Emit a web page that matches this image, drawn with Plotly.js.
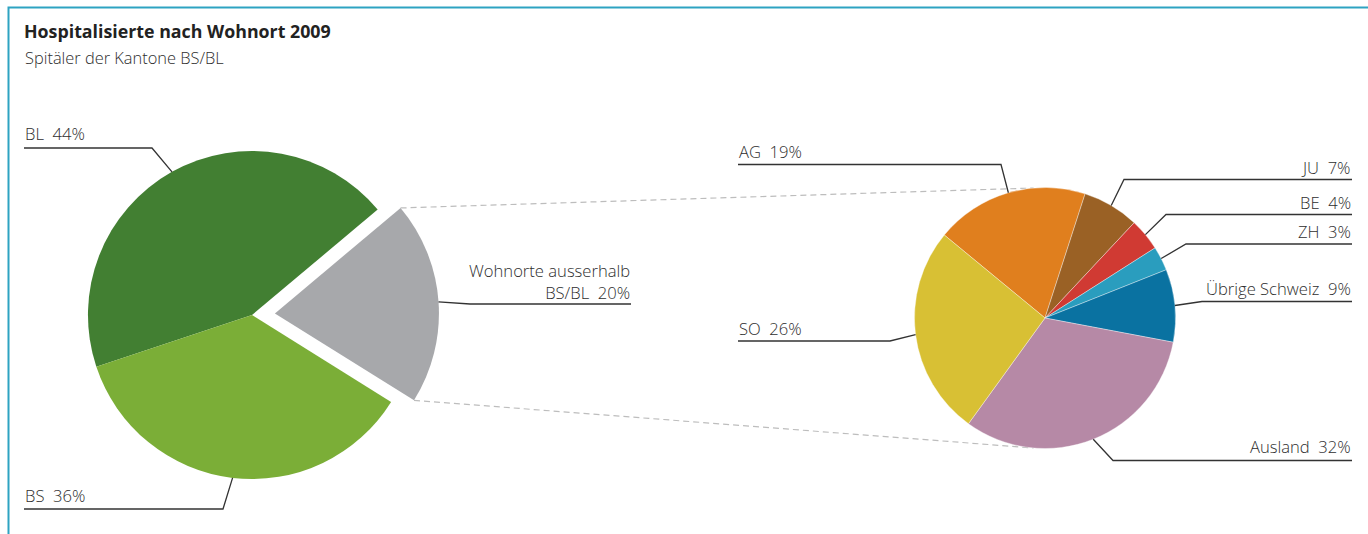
<!DOCTYPE html>
<html><head><meta charset="utf-8">
<script src="https://cdn.plot.ly/plotly-3.0.1.min.js"></script>
<style>html,body{margin:0;padding:0;background:#fff;} #chart{width:1368px;height:534px;}</style>
</head><body><div id="chart"></div>
<script>
// ---- data ----
const leftLabels = ['BL', 'BS', 'Wohnorte ausserhalb BS/BL'];
const leftValues = [44, 36, 20];
const rightLabels = ['AG', 'JU', 'BE', 'ZH', 'Übrige Schweiz', 'Ausland', 'SO'];
const rightValues = [19, 7, 4, 3, 9, 32, 26];
const titleText = 'Hospitalisierte nach Wohnort 2009';
const subtitleText = 'Spitäler der Kantone BS/BL';

// ---- style ----
const W = 1368, H = 534;
const leftColors = ['#427f32', '#7bae37', '#a7a8ab'];
const leftPull = [0, 0, 0.14];
const rightColors = ['#e07f1e', '#9a6125', '#d03a33', '#2a9dbe', '#0a72a1', '#b689a6', '#d8c034'];
const leftDomain = {x: [65 / W, 439 / W], y: [0.0599, 0.7603]};
const rightDomain = {x: [914.5 / W, 1175.5 / W], y: [0.1601, 0.6489]};
const leftRotation = -108.4, leftDirection = 'counterclockwise';
const rightRotation = -50.5, rightDirection = 'clockwise';
const FONT = '"Open Sans", Roboto, "Liberation Sans", sans-serif';
const labelColor = '#2e2e2e';
const lineColor = '#333333';

// label placement: side = text anchor, tx = text edge, yc = text middle, ly = underline y, kx = knee x
const leftLabelStyle = [
  {side: 'left', tx: 24, yc: 134, ly: 148, kx: 152},
  {side: 'left', tx: 24, yc: 495, ly: 509, kx: 223},
  {side: 'right', tx: 631, yc: 281, ly: 304, kx: 470}
];
const rightLabelStyle = [
  {side: 'left', tx: 738, yc: 151, ly: 164.5, kx: 1001},
  {side: 'right', tx: 1352, yc: 167.5, ly: 179.5, kx: 1124},
  {side: 'right', tx: 1352, yc: 202.5, ly: 214.5, kx: 1166},
  {side: 'right', tx: 1352, yc: 231, ly: 244, kx: 1186},
  {side: 'right', tx: 1352, yc: 288, ly: 301.5, kx: 1202},
  {side: 'right', tx: 1352, yc: 446.5, ly: 460.5, kx: 1113},
  {side: 'left', tx: 738, yc: 328.5, ly: 341, kx: 890}
];

const px = x => x / W;
const py = y => 1 - y / H;
const D2R = Math.PI / 180;

// geometry mirroring plotly's pie layout (angles clockwise from 12 o'clock)
function pieGeom(domain, values, rotation, direction, pulls) {
  const maxPull = Math.max(0, ...(pulls || [0]));
  const w = (domain.x[1] - domain.x[0]) * W, h = (domain.y[1] - domain.y[0]) * H;
  const cx = (domain.x[0] + domain.x[1]) / 2 * W;
  const cy = (1 - (domain.y[0] + domain.y[1]) / 2) * H;
  const r = Math.min(w, h) / 2 / (1 + maxPull);
  const tot = values.reduce((a, b) => a + b, 0);
  const ang = values.map(v => v / tot * 360);
  const slices = [];
  let cur = direction === 'counterclockwise' ? rotation + ang[0] : rotation;
  ang.forEach((a, i) => {
    let s, e;
    if (direction === 'counterclockwise') { e = cur; s = cur - a; cur = s; }
    else { s = cur; e = cur + a; cur = e; }
    const mid = (s + e) / 2;
    const pull = pulls ? pulls[i] : 0;
    const ox = cx + pull * r * Math.sin(mid * D2R), oy = cy - pull * r * Math.cos(mid * D2R);
    slices.push({s, e, mid, ox, oy});
  });
  const pt = (sl, th) => [sl.ox + r * Math.sin(th * D2R), sl.oy - r * Math.cos(th * D2R)];
  return {cx, cy, r, slices, pt};
}

const LG = pieGeom(leftDomain, leftValues, leftRotation, leftDirection, leftPull);
const RG = pieGeom(rightDomain, rightValues, rightRotation, rightDirection, null);

const shapes = [];
const annotations = [];

// frame
shapes.push({type: 'path', xref: 'paper', yref: 'paper',
  path: `M ${px(8.5)} ${py(534)} L ${px(8.5)} ${py(7.5)} L ${px(1368)} ${py(7.5)}`,
  line: {color: '#2ea3c2', width: 2}});

function addLabels(G, labels, values, styles) {
  labels.forEach((lab, i) => {
    const st = styles[i];
    const sl = G.slices[i];
    const [ax, ay] = G.pt(sl, sl.mid);
    shapes.push({type: 'path', xref: 'paper', yref: 'paper',
      path: `M ${px(st.tx)} ${py(st.ly)} L ${px(st.kx)} ${py(st.ly)} L ${px(ax)} ${py(ay)}`,
      line: {color: lineColor, width: 1.3}});
    let txt = lab + '\u00a0\u00a0' + values[i] + '%';
    if (lab === 'Wohnorte ausserhalb BS/BL') txt = 'Wohnorte ausserhalb<br>BS/BL\u00a0\u00a0' + values[i] + '%';
    annotations.push({xref: 'paper', yref: 'paper', x: px(st.tx), y: py(st.yc),
      xanchor: st.side, yanchor: 'middle', align: st.side, showarrow: false, text: txt,
      font: {family: FONT, size: 16.6, color: labelColor, weight: 300}, borderpad: 0});
  });
}
addLabels(LG, leftLabels, leftValues, leftLabelStyle);
addLabels(RG, rightLabels, rightValues, rightLabelStyle);

// dashed connectors from the pulled slice to the right pie
const gi = 2, g = LG.slices[gi];
const gTop = LG.pt(g, g.s), gBot = LG.pt(g, g.e);
const rTop = [RG.cx + RG.r * Math.sin(-5 * D2R), RG.cy - RG.r * Math.cos(-5 * D2R)];
const rBot = [RG.cx + RG.r * Math.sin(185 * D2R), RG.cy - RG.r * Math.cos(185 * D2R)];
[[gTop, rTop], [gBot, rBot]].forEach(([a, b]) => {
  shapes.push({type: 'line', xref: 'paper', yref: 'paper', x0: px(a[0]), y0: py(a[1]), x1: px(b[0]), y1: py(b[1]),
    line: {color: '#bdbdbd', width: 1.2, dash: '6px,4px'}, layer: 'below'});
});

// subtitle
annotations.push({xref: 'paper', yref: 'paper', x: px(24), y: py(57.5), xanchor: 'left', yanchor: 'middle',
  showarrow: false, text: subtitleText, font: {family: FONT, size: 16.4, color: '#2e2e2e', weight: 300}, borderpad: 0});

const data = [
  {type: 'pie', labels: leftLabels, values: leftValues, sort: false, direction: leftDirection, rotation: leftRotation,
   pull: leftPull, domain: leftDomain, textinfo: 'none', hoverinfo: 'skip', showlegend: false,
   marker: {colors: leftColors, line: {color: '#ffffff', width: 0}}},
  {type: 'pie', labels: rightLabels, values: rightValues, sort: false, direction: rightDirection, rotation: rightRotation,
   domain: rightDomain, textinfo: 'none', hoverinfo: 'skip', showlegend: false,
   marker: {colors: rightColors, line: {color: 'rgba(255,255,255,0.6)', width: 0.6}}}
];

const layout = {
  width: W, height: H, margin: {l: 0, r: 0, t: 0, b: 0},
  paper_bgcolor: '#ffffff', plot_bgcolor: '#ffffff',
  title: {text: titleText, x: px(24), xanchor: 'left', xref: 'paper', y: py(32), yanchor: 'middle', yref: 'container',
    font: {family: FONT, size: 17.8, color: '#222222', weight: 700}},
  shapes, annotations, showlegend: false
};

Plotly.newPlot('chart', data, layout, {displayModeBar: false, staticPlot: true});
</script>
</body></html>
